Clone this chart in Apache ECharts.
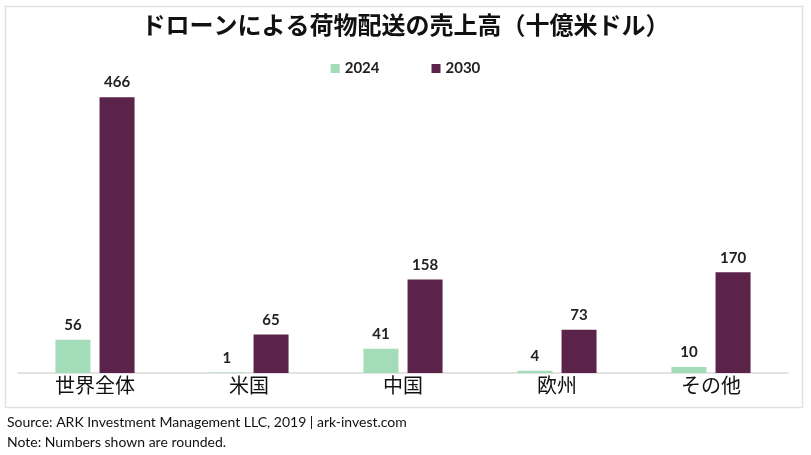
<!DOCTYPE html>
<html><head><meta charset="utf-8">
<script src="https://cdn.jsdelivr.net/npm/echarts@6/dist/echarts.min.js"></script>
<style>html,body{margin:0;padding:0;background:#fff}#c{width:811px;height:455px}</style>
</head><body><div id="c"></div>
<script>
const titleText = 'ドローンによる荷物配送の売上高（十億米ドル）';
const categories = ['世界全体', '米国', '中国', '欧州', 'その他'];
const seriesNames = ['2024', '2030'];
const values2024 = [56, 1, 41, 4, 10];
const values2030 = [466, 65, 158, 73, 170];
const sourceText = 'Source: ARK Investment Management LLC, 2019 | ark-invest.com';
const noteText = 'Note: Numbers shown are rounded.';

const chart = echarts.init(document.getElementById('c'), null, {renderer: 'canvas'});
const latin = 'Lato, "Noto Sans CJK JP", sans-serif';
const cjk = '"Noto Sans CJK JP", sans-serif';
const colors = ['#a3dcb9', '#5b2349'];
chart.setOption({
  animation: false,
  backgroundColor: '#fff',
  title: {
    text: titleText, left: 'center', top: 8,
    textStyle: {fontFamily: cjk, fontSize: 24, fontWeight: 'bold', color: '#111'}
  },
  legend: {
    data: seriesNames, top: 56, left: 'center', itemWidth: 9, itemHeight: 9, itemGap: 52,
    icon: 'rect',
    textStyle: {fontFamily: latin, fontSize: 15, fontWeight: 'bold', color: '#222'}
  },
  graphic: [
    {type: 'rect', shape: {x: 5.5, y: 6.5, width: 797, height: 401},
     style: {fill: 'none', stroke: '#e2e2e2', lineWidth: 1.5}, silent: true, z: -1},
    {type: 'text', left: 7, top: 415, style: {text: sourceText, font: '14px ' + latin, fill: '#111'}},
    {type: 'text', left: 7, top: 435, style: {text: noteText, font: '14px ' + latin, fill: '#111'}}
  ],
  grid: {left: 18, right: 23, top: 77, bottom: 82},
  xAxis: {
    type: 'category', data: categories,
    axisLine: {lineStyle: {color: '#d9d9d9', width: 1.5}},
    axisTick: {show: false},
    axisLabel: {fontFamily: cjk, fontSize: 20, color: '#111', margin: 2}
  },
  yAxis: {type: 'value', min: 0, max: 500, show: false, splitLine: {show: false}},
  series: [
    {name: seriesNames[0], type: 'bar', data: values2024, barWidth: 35, barGap: '26%',
     itemStyle: {color: colors[0]},
     label: {show: true, position: 'top', distance: 7, fontFamily: latin, fontSize: 15, fontWeight: 'bold', color: '#222'}},
    {name: seriesNames[1], type: 'bar', data: values2030, barWidth: 35,
     itemStyle: {color: colors[1]},
     label: {show: true, position: 'top', distance: 7, fontFamily: latin, fontSize: 15, fontWeight: 'bold', color: '#222'}}
  ]
});
</script></body></html>
